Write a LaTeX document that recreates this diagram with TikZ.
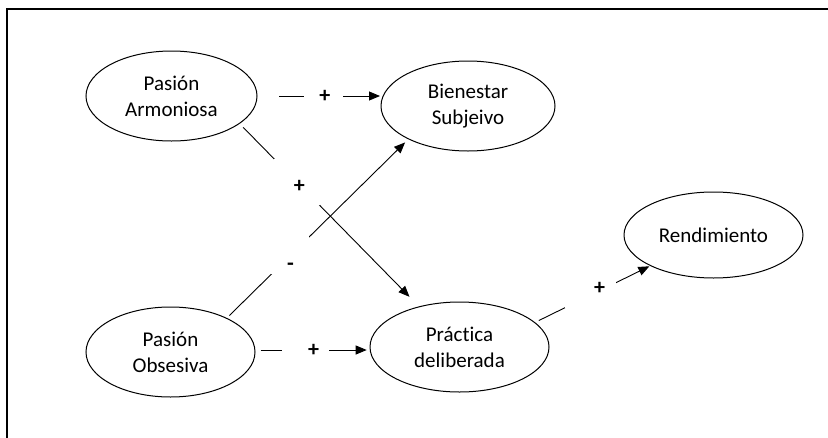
\documentclass[tikz,border=0pt]{standalone}
\usepackage{fontspec}
\setmainfont{Carlito}[Ligatures={NoCommon,NoRare,NoContextual}]
\usetikzlibrary{shapes.geometric,arrows.meta,calc}
\begin{document}
\begin{tikzpicture}[x=1pt,y=-1pt,
  var/.style={ellipse, draw, line width=1pt, inner sep=0pt, outer sep=0pt, align=center, font=\fontsize{21}{26}\selectfont},
  link/.style={line width=0.9pt},
  arr/.style={link, -{Triangle[length=11pt,width=9pt]}},
  gapbox/.style={fill=white, inner sep=0pt, font=\fontsize{21}{26}\selectfont\bfseries},
  lab/.style={inner sep=0pt, font=\fontsize{22}{26}\selectfont\bfseries}
]
\useasboundingbox (0,0) rectangle (828,437);
\fill[white] (0,0) rectangle (828,437);
\begin{scope}
\clip (0,0) rectangle (828,437);
\draw[line width=2pt] (6.5,9) rectangle (850,460);
\end{scope}

\node[var, minimum width=171pt, minimum height=90pt] (PA) at (171.5,96) {Pasión\\Armoniosa};
\node[var, minimum width=174pt, minimum height=90pt] (BS) at (468,106) {Bienestar\\Subjeivo};
\node[var, minimum width=179pt, minimum height=86pt] (RE) at (713.5,235) {Rendimiento};
\node[var, minimum width=179pt, minimum height=90pt] (PD) at (459.5,347) {Práctica\\deliberada};
\node[var, minimum width=169pt, minimum height=90pt] (PO) at (170.5,352) {Pasión\\Obsesiva};

% Pasion Armoniosa -> Bienestar
\draw[arr, shorten <=22pt, shorten >=1pt] (PA.east) -- node[gapbox, pos=0.537, minimum width=38.7pt, minimum height=16pt, label={[lab,xshift=1.3pt]center:+}]{} (BS.west |- PA.east);

% Pasion Armoniosa -> Practica
\draw[arr, shorten <=5.5pt, shorten >=14pt] (PA.338.5) -- node[gapbox, pos=0.32, minimum width=46pt, minimum height=46pt, label={[lab,xshift=2.5pt,yshift=-4.5pt]center:+}]{} (PD.135.8);

% Pasion Obsesiva -> Bienestar
\draw[arr, shorten <=4pt, shorten >=5pt] (PO.31.4) -- node[gapbox, pos=0.351, minimum width=38pt, minimum height=38pt, label={[lab,yshift=-11.7pt]center:-}]{} (BS.209.5);

% Pasion Obsesiva -> Practica
\draw[arr, shorten <=5.5pt, shorten >=3.3pt] ($(PO.east)+(0,-2)$) -- node[gapbox, pos=0.439, minimum width=47.6pt, minimum height=16pt, label={[lab,xshift=8pt]center:+}]{} ($(PD.west |- PO.east)+(0,-2)$);

% Practica -> Rendimiento
\draw[arr, shorten <=4.6pt, shorten >=1.5pt] (PD.18.1) -- node[gapbox, pos=0.484, minimum width=51pt, minimum height=26pt, label={[lab,xshift=8.8pt,yshift=6.7pt]center:+}]{} (RE.206.5);
\end{tikzpicture}
\end{document}
